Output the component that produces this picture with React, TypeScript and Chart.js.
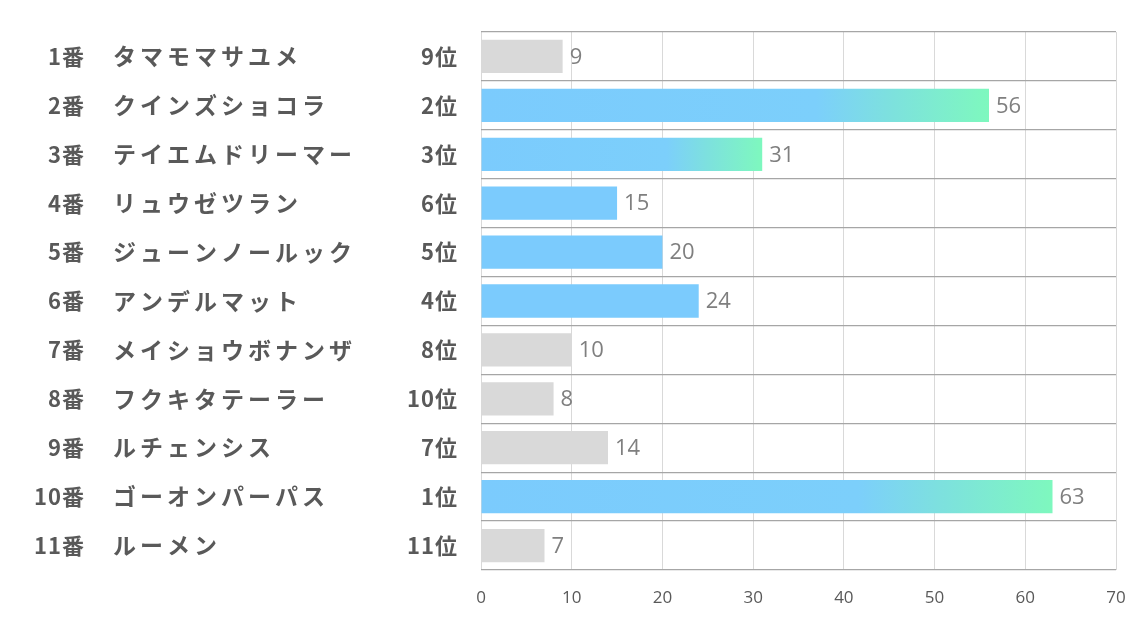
import React, { useEffect, useRef } from "react";
import { Chart, registerables } from "chart.js";

Chart.register(...registerables);

const gateNumbers = ["1番", "2番", "3番", "4番", "5番", "6番", "7番", "8番", "9番", "10番", "11番"];
const horseNames = [
  "タマモマサユメ",
  "クインズショコラ",
  "テイエムドリーマー",
  "リュウゼツラン",
  "ジューンノールック",
  "アンデルマット",
  "メイショウボナンザ",
  "フクキタテーラー",
  "ルチェンシス",
  "ゴーオンパーパス",
  "ルーメン",
];
const rankLabels = ["9位", "2位", "3位", "6位", "5位", "4位", "8位", "10位", "7位", "1位", "11位"];
const ranks = [9, 2, 3, 6, 5, 4, 8, 10, 7, 1, 11];
const scores = [9, 56, 31, 15, 20, 24, 10, 8, 14, 63, 7];
const xTicks = [0, 10, 20, 30, 40, 50, 60, 70];

const BLUE = "#7BCBFD";
const GREEN = "#7EF8BE";
const GRAY = "#D9D9D9";
const TEXT = "#595959";
const CJK = "'Noto Sans CJK JP', 'Noto Sans', sans-serif";
const NUMFONT = "'Open Sans', 'Noto Sans', sans-serif";

const sideLabels = {
  id: "sideLabels",
  afterDraw(chart: any) {
    const ctx = chart.ctx;
    const y = chart.scales.y;
    const x = chart.scales.x;
    ctx.save();
    ctx.textBaseline = "middle";
    for (let i = 0; i < horseNames.length; i++) {
      const py = y.getPixelForValue(i);
      ctx.fillStyle = TEXT;
      ctx.font = `bold 23px ${CJK}`;
      (ctx as any).letterSpacing = "4px";
      ctx.textAlign = "left";
      ctx.fillText(horseNames[i], 113, py);
      ctx.font = `bold 22px ${CJK}`;
      (ctx as any).letterSpacing = "1px";
      ctx.textAlign = "right";
      ctx.fillText(gateNumbers[i], 85, py);
      ctx.fillText(rankLabels[i], 458, py);
      (ctx as any).letterSpacing = "0px";
      // value label
      ctx.fillStyle = "#7F7F7F";
      ctx.font = `22px ${NUMFONT}`;
      ctx.textAlign = "left";
      ctx.fillText(String(scores[i]), x.getPixelForValue(scores[i]) + 7, py + 1);
    }
    ctx.restore();
  },
};

export default function App() {
  const ref = useRef<HTMLCanvasElement | null>(null);
  useEffect(() => {
    if (!ref.current) return;
    const chart = new Chart(ref.current, {
      type: "bar",
      data: {
        labels: horseNames,
        datasets: [
          {
            data: scores,
            barPercentage: 0.68,
            categoryPercentage: 1,
            backgroundColor: (c: any) => {
              const i = c.dataIndex;
              if (i === undefined) return GRAY;
              const r = ranks[i];
              if (r > 6) return GRAY;
              if (r > 3) return BLUE;
              const xs = c.chart.scales && c.chart.scales.x;
              if (!xs) return BLUE;
              const x0 = xs.getPixelForValue(0);
              const x1 = xs.getPixelForValue(scores[i]);
              if (!isFinite(x0) || !isFinite(x1) || x1 <= x0) return BLUE;
              const g = c.chart.ctx.createLinearGradient(x0, 0, x1, 0);
              g.addColorStop(0, BLUE);
              g.addColorStop(0.66, "#7CCFFB");
              g.addColorStop(0.8, "#7DE0DF");
              g.addColorStop(1, GREEN);
              return g;
            },
          },
        ],
      },
      options: {
        indexAxis: "y",
        animation: false,
        responsive: false,
        maintainAspectRatio: false,
        layout: { padding: { left: 481, right: 18, top: 32, bottom: 14 } },
        plugins: {
          legend: { display: false },
          tooltip: { enabled: false },
        },
        scales: {
          x: {
            min: 0,
            max: 70,
            afterBuildTicks: (s: any) => {
              s.ticks = xTicks.map((v) => ({ value: v }));
            },
            afterFit: (s: any) => {
              s.height = 39;
              s.paddingLeft = 0;
              s.paddingRight = 0;
            },
            grid: { color: "#D9D9D9", drawTicks: false },
            border: { display: false },
            ticks: {
              color: TEXT,
              padding: 18,
              font: { family: NUMFONT, size: 17 },
            },
          },
          y: {
            offset: true,
            grid: { offset: true, color: "#A6A6A6", drawTicks: false, lineWidth: 1.3 },
            border: { display: false },
            ticks: { display: false },
          },
        },
      },
      plugins: [sideLabels],
    } as any);
    return () => chart.destroy();
  }, []);
  return (
    <div style={{ position: "fixed", left: 0, top: 0, width: 1134, height: 623, background: "#fff" }}>
      <canvas ref={ref} width={1134} height={623} style={{ width: 1134, height: 623 }} />
    </div>
  );
}
